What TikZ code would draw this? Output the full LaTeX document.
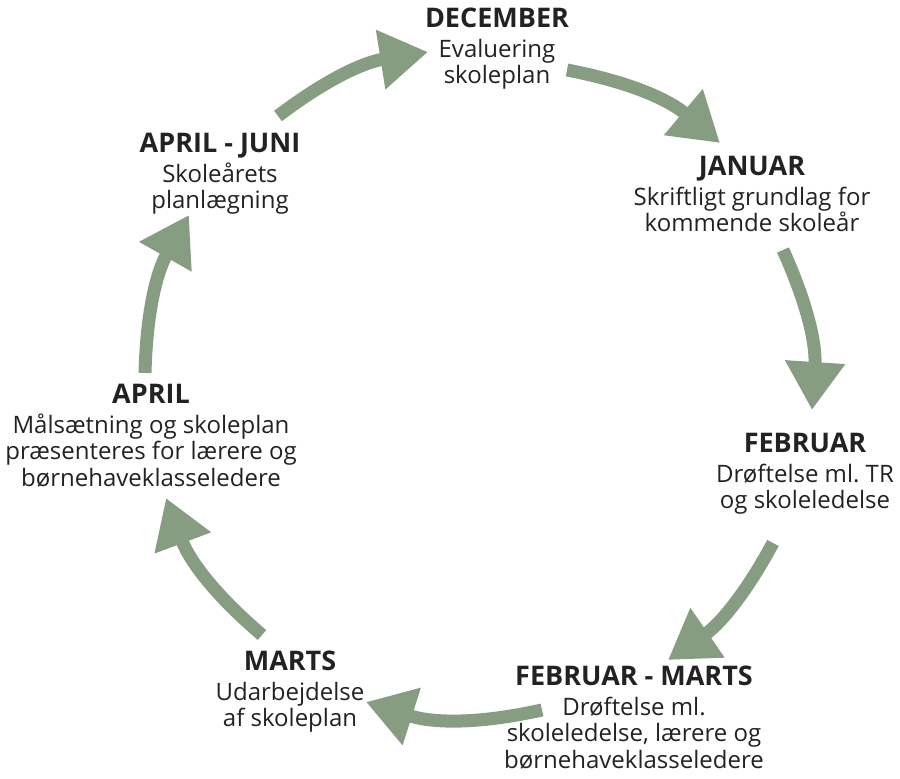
\documentclass[tikz,border=0pt]{standalone}
\usepackage{fontspec}
\setmainfont{Open Sans}
\usetikzlibrary{arrows.meta}
\definecolor{arrowgreen}{HTML}{879D81}
\definecolor{txt}{HTML}{222222}
\frenchspacing
\newcommand{\hd}[1]{{\fontsize{27}{27}\selectfont\bfseries #1}}
\tikzset{
  cyclearrow/.style={draw=arrowgreen, line width=13pt, line cap=butt,
    -{Triangle[length=48pt,width=57pt,fill=arrowgreen]}, bend left=#1},
  label/.style={anchor=north, align=center, inner sep=0pt, text=txt,
    font=\fontsize{24}{26.5}\selectfont}
}
\begin{document}
\begin{tikzpicture}[x=1pt,y=1pt]
\useasboundingbox (0,0) rectangle (900,779);
% text blocks
\node[label] (dec) at (497,771.3) {\hd{DECEMBER}\\[3.5pt]Evaluering\\skoleplan};
\node[label] (jan) at (752,623.3) {\hd{JANUAR}\\[3.5pt]Skriftligt grundlag for\\kommende skoleår};
\node[label] (feb) at (805,346.3) {\hd{FEBRUAR}\\[3.5pt]Drøftelse ml. TR\\og skoleledelse};
\node[label] (febm) at (634,113.3) {\hd{FEBRUAR - MARTS}\\[3.5pt]Drøftelse ml.\\skoleledelse, lærere og\\børnehaveklasseledere};
\node[label] (marts) at (290,128.3) {\hd{MARTS}\\[3.5pt]Udarbejdelse\\af skoleplan};
\node[label] (apr) at (151,395.3) {\hd{APRIL}\\[3.5pt]Målsætning og skoleplan\\præsenteres for lærere og\\børnehaveklasseledere};
\node[label] (aj) at (220,646.3) {\hd{APRIL - JUNI}\\[3.5pt]Skoleårets\\planlægning};
% arrow end points
\coordinate (t1) at (278,663); \coordinate (h1) at (428,727);
\coordinate (t2) at (567,709); \coordinate (h2) at (720,636);
\coordinate (t3) at (783,529); \coordinate (h3) at (812,369);
\coordinate (t4) at (773,236); \coordinate (h4) at (668,119);
\coordinate (t5) at (542,69);  \coordinate (h5) at (366,77);
\coordinate (t6) at (262,144); \coordinate (h6) at (166,281);
\coordinate (t7) at (145,406); \coordinate (h7) at (189,564);
% arrows
\draw[cyclearrow=14] (t1) to (h1);
\draw[cyclearrow=14.6] (t2) to (h2);
\draw[cyclearrow=14] (t3) to (h3);
\draw[cyclearrow=13.5] (t4) to (h4);
\draw[cyclearrow=15] (t5) to (h5);
\draw[cyclearrow=14.5] (t6) to (h6);
\draw[cyclearrow=14] (t7) to (h7);
\end{tikzpicture}
\end{document}
